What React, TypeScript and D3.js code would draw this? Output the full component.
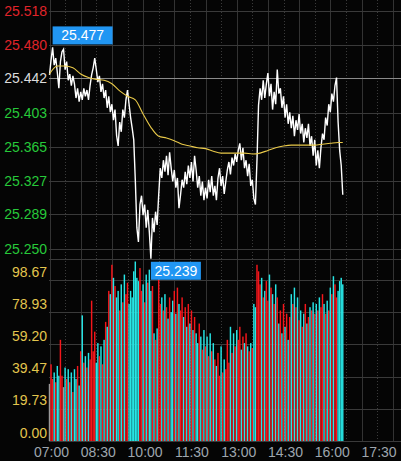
import React from "react";
import * as d3 from "d3";

// ---- DATA ----
// price every 3 minutes starting 07:00
const prices: number[] = [
  25.446, 25.463, 25.477, 25.457, 25.465, 25.449, 25.431, 25.461, 25.472, 25.475,
  25.452, 25.461, 25.440, 25.447, 25.434, 25.445, 25.436, 25.420, 25.431, 25.416,
  25.427, 25.418, 25.431, 25.422, 25.429, 25.418, 25.434, 25.446, 25.454, 25.465,
  25.452, 25.438, 25.445, 25.427, 25.436, 25.420, 25.429, 25.409, 25.422, 25.404,
  25.413, 25.395, 25.407, 25.378, 25.366, 25.393, 25.382, 25.407, 25.398, 25.418,
  25.429, 25.413, 25.398, 25.386, 25.373, 25.328, 25.274, 25.258, 25.300, 25.310,
  25.288, 25.300, 25.274, 25.294, 25.269, 25.239, 25.285, 25.269, 25.292, 25.277,
  25.311, 25.341, 25.330, 25.350, 25.337, 25.355, 25.333, 25.359, 25.341, 25.326,
  25.339, 25.319, 25.330, 25.296, 25.311, 25.328, 25.319, 25.337, 25.323, 25.344,
  25.330, 25.348, 25.326, 25.355, 25.339, 25.319, 25.332, 25.310, 25.326, 25.305,
  25.319, 25.307, 25.328, 25.314, 25.332, 25.310, 25.321, 25.305, 25.330, 25.341,
  25.321, 25.332, 25.312, 25.326, 25.339, 25.348, 25.334, 25.353, 25.344, 25.357,
  25.348, 25.361, 25.369, 25.350, 25.364, 25.341, 25.350, 25.332, 25.346, 25.321,
  25.328, 25.307, 25.300, 25.350, 25.412, 25.431, 25.418, 25.440, 25.420, 25.436,
  25.448, 25.422, 25.436, 25.407, 25.427, 25.413, 25.452, 25.425, 25.431, 25.409,
  25.422, 25.398, 25.413, 25.391, 25.404, 25.386, 25.400, 25.377, 25.395, 25.384,
  25.402, 25.380, 25.391, 25.370, 25.386, 25.375, 25.391, 25.366, 25.377, 25.355,
  25.373, 25.344, 25.361, 25.341, 25.364, 25.380, 25.373, 25.398, 25.389, 25.413,
  25.404, 25.425, 25.416, 25.434, 25.443, 25.393, 25.361, 25.344, 25.311,
];

// volume every 3 minutes starting 07:00
const volumes: number[] = [
  35, 47, 38, 42, 36, 46, 40, 62, 40, 33,
  45, 38, 44, 36, 42, 30, 44, 38, 46, 34,
  55, 77, 48, 52, 45, 54, 50, 86, 55, 67,
  48, 60, 52, 58, 47, 62, 73, 70, 92, 90,
  108, 100, 95, 88, 92, 80, 96, 85, 102, 90,
  97, 84, 92, 88, 104, 110, 100, 98, 106, 92,
  96, 85, 102, 97, 105, 92, 95, 66, 62, 69,
  108, 84, 88, 80, 90, 82, 75, 88, 79, 86,
  92, 78, 94, 84, 80, 88, 76, 82, 70, 84,
  72, 80, 68, 76, 66, 60, 72, 64, 56, 68,
  58, 64, 52, 66, 55, 60, 50, 46, 54, 40,
  58, 42, 50, 44, 62, 48, 70, 54, 66, 58,
  68, 62, 70, 56, 64, 60, 66, 58, 55, 60,
  57, 84, 82, 108, 104, 96, 100, 88, 92, 98,
  86, 102, 94, 90, 84, 96, 88, 72, 80, 66,
  84, 70, 78, 62, 76, 90, 84, 94, 82, 88,
  74, 80, 70, 78, 84, 72, 76, 82, 80, 85,
  78, 84, 80, 88, 82, 90, 84, 78, 86, 80,
  94, 90, 101, 96, 88, 92, 98, 100, 96,
];

// average price line, every 15 minutes from 07:00 (last point at 16:24)
const avgPrices: number[] = [
  25.447, 25.456, 25.456, 25.454, 25.447, 25.443, 25.441, 25.440, 25.436, 25.428,
  25.422, 25.418, 25.402, 25.387, 25.377, 25.375, 25.372, 25.368, 25.366, 25.364,
  25.363, 25.360, 25.358, 25.358, 25.358, 25.358, 25.357, 25.358, 25.361, 25.364,
  25.366, 25.367, 25.367, 25.367, 25.367, 25.368, 25.369, 25.370, 25.370,
];

const prevClose = 25.442;
const priceTicks: string[] = ["25.518", "25.480", "25.442", "25.403", "25.365", "25.327", "25.289", "25.250"];
const volumeTicks: string[] = ["98.67", "78.93", "59.20", "39.47", "19.73", "0.00"];
const timeTicks: string[] = ["07:00", "08:30", "10:00", "11:30", "13:00", "14:30", "16:00", "17:30"];

// ---- LAYOUT ----
const W = 401;
const H = 461;
const STEP = 3; // minutes per price/volume sample
const AVG_STEP = 15;

const toMin = (t: string) => {
  const [h, m] = t.split(":").map(Number);
  return (h - 7) * 60 + m;
};

export default function App() {
  const x = d3.scaleLinear().domain([0, 675]).range([49.5, 400.5]);
  const y = d3.scaleLinear().domain([25.25, 25.518]).range([249, 11]);
  const yv = d3.scaleLinear().domain([0, 98.67]).range([441, 280]);

  const lastMin = (prices.length - 1) * STEP;
  const priceLine = d3
    .line<number>()
    .x((_, i) => x(i * STEP))
    .y((d) => y(d));
  const avgLine = d3
    .line<number>()
    .x((_, i) => x(Math.min(i * AVG_STEP, lastMin)))
    .y((d) => y(d))
    .curve(d3.curveMonotoneX);

  const maxI = d3.maxIndex(prices);
  const minI = d3.minIndex(prices);
  const maxP = prices[maxI];
  const minP = prices[minI];

  const font = "'Liberation Sans', Arial, sans-serif";

  const hourLines = d3.range(0, 676, 30);
  const barW = 1.45;

  const barColor = (i: number) => {
    const prev = i === 0 ? prevClose : prices[i - 1];
    const d = prices[i] - prev;
    if (d > 0.006) return "#f5161b";
    if (d < -0.006) return "#27e6e6";
    return "#9a9a9a";
  };

  const priceColor = (v: number) => (v > prevClose + 1e-9 ? "#e0242a" : v < prevClose - 1e-9 ? "#27c93a" : "#dcdcdc");

  return (
    <svg
      width={W}
      height={H}
      style={{ position: "absolute", left: 0, top: 0, background: "#050505" }}
    >
      <rect x={0} y={0} width={W} height={H} fill="#050505" />
      {/* vertical grid */}
      {hourLines.map((m) => (
        <line
          key={"v" + m}
          x1={Math.round(x(m)) + 0.5}
          x2={Math.round(x(m)) + 0.5}
          y1={0}
          y2={441}
          stroke={m % 60 === 0 ? "#333" : "#3a3a3a"}
          strokeWidth={1}
          strokeDasharray={m % 60 === 0 ? undefined : "1,2"}
        />
      ))}
      {/* price horizontal grid */}
      {priceTicks.map((t) => {
        const v = +t;
        const yy = Math.round(y(v)) + 0.5;
        return (
          <line
            key={"ph" + t}
            x1={49}
            x2={W}
            y1={yy}
            y2={yy}
            stroke={Math.abs(v - prevClose) < 1e-6 ? "#8a8a8a" : "#3a3a3a"}
            strokeWidth={1}
          />
        );
      })}
      {/* volume panel grid */}
      <line x1={49} x2={W} y1={259.5} y2={259.5} stroke="#3a3a3a" />
      {volumeTicks.map((t) => {
        const yy = Math.round(yv(+t)) + 0.5;
        return <line key={"vh" + t} x1={49} x2={W} y1={yy} y2={yy} stroke="#3a3a3a" />;
      })}
      {/* volume bars */}
      <g>
        {volumes.map((v, i) => (
          <rect
            key={"b" + i}
            x={x(i * STEP) - barW / 2}
            y={yv(v)}
            width={barW}
            height={yv(0) - yv(v)}
            fill={barColor(i)}
          />
        ))}
      </g>
      {/* price line */}
      <path d={priceLine(prices) || ""} fill="none" stroke="#ffffff" strokeWidth={1.4} />
      {/* average line */}
      <path d={avgLine(avgPrices) || ""} fill="none" stroke="#e9c949" strokeWidth={1.1} />
      {/* price labels */}
      {priceTicks.map((t) => (
        <text
          key={"pl" + t}
          x={47}
          y={y(+t) + 5}
          textAnchor="end"
          fontFamily={font}
          fontSize={14}
          fill={priceColor(+t)}
        >
          {t}
        </text>
      ))}
      {/* volume labels */}
      {volumeTicks.map((t) => (
        <text
          key={"vl" + t}
          x={47}
          y={yv(+t) - 3.5}
          textAnchor="end"
          fontFamily={font}
          fontSize={14}
          fill="#e3c64e"
        >
          {t}
        </text>
      ))}
      {/* time labels */}
      {timeTicks.map((t) => (
        <text
          key={"tl" + t}
          x={x(toMin(t)) + 2}
          y={457}
          textAnchor="middle"
          fontFamily={font}
          fontSize={14}
          fill="#9ea6ae"
        >
          {t}
        </text>
      ))}
      {/* high marker */}
      <g>
        <rect x={x(maxI * STEP)} y={y(maxP) - 21} width={60} height={18} fill="#2196f3" />
        <text
          x={x(maxI * STEP) + 30}
          y={y(maxP) - 7}
          textAnchor="middle"
          fontFamily={font}
          fontSize={14}
          fill="#ffffff"
        >
          {maxP.toFixed(3)}
        </text>
      </g>
      {/* low marker */}
      <g>
        <rect x={x(minI * STEP)} y={y(minP) + 3} width={50} height={18} fill="#2196f3" />
        <text
          x={x(minI * STEP) + 25}
          y={y(minP) + 17}
          textAnchor="middle"
          fontFamily={font}
          fontSize={14}
          fill="#ffffff"
        >
          {minP.toFixed(3)}
        </text>
      </g>
    </svg>
  );
}
